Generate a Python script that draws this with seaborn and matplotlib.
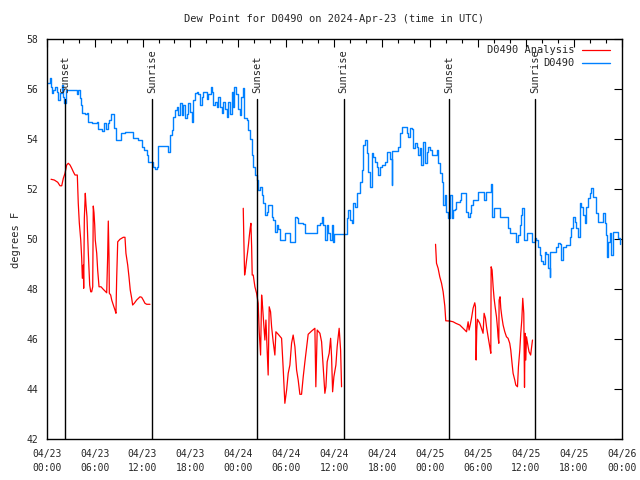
import numpy as np
import pandas as pd
import seaborn as sns
import matplotlib.pyplot as plt
import matplotlib.dates as mdates
from matplotlib.lines import Line2D

# hours since 2024-04-23 00:00 UTC
obs_hours = [0.08, 0.41, 0.54, 0.63, 0.83, 1.04, 1.25, 1.45, 1.66, 1.88, 2.08, 2.20, 2.38, 2.70, 3.54,
             3.75, 3.95, 4.17, 4.29, 4.46, 4.79, 5.00, 5.21, 5.63, 6.26, 6.46, 6.88, 7.21, 7.42, 7.63,
             7.80, 8.05, 8.34, 8.46, 8.64, 8.96, 9.30, 9.80, 10.55, 10.84, 11.46, 11.89, 12.18, 12.52,
             12.72, 13.14, 13.34, 13.55, 13.77, 13.97, 14.59, 15.14, 15.22, 15.43, 15.64, 15.85, 16.06,
             16.27, 16.47, 16.68, 16.90, 17.10, 17.31, 17.52, 17.72, 17.93, 18.15, 18.35, 18.56, 18.77,
             18.97, 19.19, 19.40, 19.60, 19.81, 20.03, 20.23, 20.53, 20.65, 20.85, 21.06, 21.28, 21.48,
             21.69, 21.90, 22.10, 22.32, 22.53, 22.73, 22.94, 23.15, 23.35, 23.48, 23.69, 23.94, 24.19,
             24.38, 24.53, 24.69, 25.03, 25.23, 25.44, 25.66, 25.86, 26.07, 26.28, 26.48, 26.70, 26.91,
             27.11, 27.32, 27.53, 27.74, 28.16, 28.36, 28.57, 28.79, 28.99, 29.20, 29.61, 29.82, 30.24,
             30.45, 30.86, 31.08, 31.29, 31.49, 32.12, 32.33, 33.58, 33.79, 34.21, 34.42, 34.62, 34.83,
             35.04, 35.24, 35.46, 35.67, 35.87, 35.96, 37.34, 37.55, 37.75, 37.96, 38.17, 38.37, 38.59,
             38.80, 39.00, 39.21, 39.42, 39.63, 39.84, 40.05, 40.25, 40.46, 40.68, 40.88, 41.09, 41.30,
             41.50, 41.72, 41.93, 42.13, 42.34, 42.55, 42.75, 42.97, 43.18, 43.22, 43.80, 44.00, 44.22,
             44.43, 44.84, 45.06, 45.26, 45.47, 45.68, 45.88, 46.10, 46.31, 46.51, 46.72, 46.93, 47.13,
             47.35, 47.56, 47.76, 47.97, 48.19, 48.60, 48.81, 49.01, 49.22, 49.44, 49.64, 49.85, 50.06,
             50.26, 50.48, 50.69, 50.89, 51.10, 51.31, 51.72, 51.93, 52.34, 52.56, 52.76, 52.97, 53.19,
             53.39, 53.82, 54.02, 54.64, 54.73, 54.98, 55.57, 55.69, 55.82, 55.98, 56.48, 56.82, 57.57,
             57.77, 57.98, 58.61, 58.82, 59.02, 59.24, 59.45, 59.57, 59.74, 60.15, 60.70, 60.83, 61.16,
             61.33, 61.53, 61.74, 61.95, 62.15, 62.36, 62.58, 62.78, 62.99, 63.08, 63.62, 63.83, 64.03,
             64.24, 64.45, 64.66, 65.08, 65.49, 65.71, 65.91, 66.12, 66.33, 66.53, 66.75, 66.96, 67.16,
             67.37, 67.58, 67.79, 68.00, 68.21, 68.41, 68.62, 68.83, 69.04, 69.46, 69.66, 69.87, 70.08,
             70.16, 70.28, 70.49, 70.70, 70.91, 71.33, 71.54, 71.75]
obs_vals = [56.24, 56.44, 56.1, 55.84, 55.97, 56.1, 55.9, 55.57, 55.84, 56.17, 55.7, 55.44, 55.97, 55.97, 55.97,
            55.8, 55.97, 55.64, 55.37, 55.04, 55.0, 55.04, 54.7, 54.66, 54.7, 54.4, 54.34, 54.64, 54.4, 54.64,
            54.77, 55.0, 55.0, 54.44, 53.97, 53.97, 54.24, 54.3, 54.28, 54.04, 53.97, 53.7, 53.57, 53.37,
            53.1, 53.1, 52.9, 52.8, 52.9, 53.73, 53.73, 53.68, 53.5, 54.17, 54.37, 54.9, 55.17,
            55.3, 54.97, 55.44, 54.97, 55.37, 54.84, 55.0, 55.44, 55.1, 54.7, 55.57, 55.87, 55.9,
            55.8, 55.37, 55.7, 55.9, 55.9, 55.6, 55.8, 56.1, 55.9, 55.37, 55.5, 55.3, 55.7,
            55.3, 55.04, 55.5, 55.2, 54.9, 55.5, 55.0, 55.9, 55.3, 56.1, 55.8, 55.2, 54.97,
            55.7, 56.04, 54.84, 54.77, 54.37, 54.0, 53.37, 52.9, 52.57, 52.37, 51.97, 52.1, 51.77,
            51.44, 50.97, 51.1, 51.37, 50.9, 50.77, 50.3, 50.57, 50.4, 49.97, 49.97, 50.24, 50.24,
            49.9, 49.9, 50.9, 50.84, 50.64, 50.6, 50.24, 50.24, 50.57, 50.64, 50.9, 50.57, 49.97,
            50.57, 50.24, 49.97, 50.57, 49.9, 50.2, 50.2, 50.84, 51.17, 50.77, 50.64, 51.44, 51.3,
            51.84, 51.84, 52.3, 52.77, 53.77, 53.97, 53.44, 52.7, 52.1, 53.44, 53.3, 53.1, 52.9,
            52.57, 52.9, 52.97, 52.97, 53.1, 53.5, 53.5, 53.2, 52.17, 53.53, 53.53, 53.7, 54.24,
            54.5, 54.5, 54.24, 54.1, 54.44, 54.4, 53.64, 53.84, 53.7, 53.37, 53.64, 52.97, 53.9,
            53.04, 53.5, 53.7, 53.57, 53.37, 53.37, 53.57, 53.04, 52.64, 52.3, 51.37, 51.77, 51.1,
            50.84, 51.77, 50.84, 51.17, 51.2, 51.5, 51.57, 51.84, 51.84, 51.1, 50.9, 51.04, 51.37,
            51.57, 51.57, 51.9, 51.9, 51.57, 51.9, 51.9, 52.2, 50.9, 51.24, 51.24, 50.9, 50.9,
            50.44, 50.24, 50.24, 49.9, 50.17, 50.57, 50.97, 51.24, 49.97, 50.24, 50.24, 49.9, 50.04,
            49.97, 49.7, 49.37, 49.13, 49.0, 49.5, 49.4, 48.84, 48.5, 49.5, 49.5, 49.7, 49.84,
            49.8, 49.17, 49.7, 49.77, 50.1, 50.44, 50.9, 50.7, 50.44, 50.1, 51.44, 51.3, 50.97,
            50.64, 51.3, 51.64, 51.84, 52.04, 51.7, 51.7, 51.04, 50.7, 50.7, 51.04, 50.64, 50.17,
            49.3, 49.9, 50.24, 49.37, 50.3, 50.3, 50.04, 49.8]

ana_hours_1 = [0.54, 0.95, 1.38, 1.66, 1.88, 2.08, 2.29, 2.50, 2.70, 2.92, 3.13, 3.33, 3.54, 3.83, 3.95,
               4.08, 4.26, 4.38, 4.46, 4.58, 4.63, 4.71, 4.83, 4.92, 5.04, 5.13, 5.21, 5.29, 5.38, 5.51,
               5.63, 5.76, 5.83, 5.92, 6.01, 6.08, 6.26, 6.38, 6.55, 6.80, 7.08, 7.30, 7.51, 7.63, 7.71,
               7.80, 7.84, 8.01, 8.14, 8.34, 8.55, 8.67, 8.76, 8.89, 9.17, 9.59, 9.80, 9.92, 10.14, 10.30,
               10.46, 10.64, 10.76, 10.96, 11.26, 11.68, 11.89, 12.09, 12.30, 12.52, 12.93]
ana_vals_1 = [52.4, 52.37, 52.28, 52.14, 52.14, 52.44, 52.64, 52.97, 53.04, 52.97, 52.84, 52.7, 52.57, 52.57, 51.44,
              50.66, 49.97, 49.24, 48.44, 48.97, 48.04, 50.84, 51.84, 51.37, 50.9, 50.1, 49.44, 48.84, 48.17, 47.9,
              47.9, 48.1, 51.33, 51.06, 50.57, 49.97, 49.44, 48.77, 48.1, 48.1, 48.0, 47.93, 47.86, 49.3, 50.73,
              49.3, 47.84, 47.77, 47.57, 47.37, 47.17, 47.04, 48.44, 49.9, 50.0, 50.08, 50.08, 49.44, 48.97, 48.5,
              47.97, 47.64, 47.37, 47.44, 47.57, 47.7, 47.68, 47.57, 47.44, 47.4, 47.4]

ana_hours_2 = [24.61, 24.69, 24.78, 24.91, 25.03, 25.16, 25.28, 25.36, 25.48, 25.57, 25.66, 25.73, 25.86, 26.07,
               26.28, 26.48, 26.61, 26.78, 26.91, 27.03, 27.20, 27.32, 27.45, 27.73, 27.86, 28.03, 28.16, 28.36,
               28.57, 28.70, 28.99, 29.41, 29.61, 29.82, 30.04, 30.24, 30.45, 30.66, 30.86, 31.08, 31.29, 31.49,
               31.70, 31.91, 32.12, 32.33, 32.74, 33.17, 33.58, 33.70, 33.87, 34.21, 34.42, 34.62, 34.83, 34.96,
               35.12, 35.37, 35.55, 35.67, 35.80, 35.96, 36.21, 36.37, 36.50, 36.62, 36.80, 36.92]
ana_vals_2 = [51.24, 49.9, 48.57, 48.84, 49.17, 49.5, 49.84, 50.1, 50.44, 50.64, 49.7, 48.57, 48.57, 48.1,
              47.84, 47.44, 46.3, 45.37, 47.77, 47.3, 46.5, 45.97, 46.77, 44.57, 47.3, 47.1, 46.5, 45.9,
              45.37, 46.3, 46.2, 46.04, 44.84, 43.44, 43.97, 44.64, 44.97, 45.84, 46.17, 45.7, 44.77, 44.37,
              43.8, 43.8, 44.5, 45.1, 46.2, 46.33, 46.44, 44.1, 46.37, 46.24, 45.9, 44.9, 43.84, 44.1,
              45.1, 45.44, 46.04, 45.3, 43.9, 44.5, 44.97, 45.7, 46.1, 46.44, 45.57, 44.1]

ana_hours_3 = [48.69, 48.81, 49.01, 49.22, 49.44, 49.64, 49.85, 49.97, 50.48, 50.89, 51.23, 51.73, 52.14, 52.36,
               52.57, 52.77, 52.89, 53.07, 53.19, 53.39, 53.60, 53.69, 53.77, 53.85, 53.94, 54.23, 54.44, 54.64,
               54.77, 54.94, 55.07, 55.27, 55.48, 55.61, 55.65, 55.77, 55.90, 56.02, 56.15, 56.32, 56.45, 56.52,
               56.61, 56.65, 56.77, 56.86, 56.99, 57.15, 57.36, 57.57, 57.77, 57.98, 58.11, 58.27, 58.40, 58.61,
               58.74, 58.95, 59.07, 59.24, 59.36, 59.49, 59.61, 59.74, 59.83, 59.90, 59.99, 60.08, 60.28, 60.40,
               60.60, 60.70, 60.83]
ana_vals_3 = [49.8, 49.04, 48.84, 48.5, 48.24, 47.9, 47.33, 46.74, 46.73, 46.7, 46.64, 46.57, 46.44, 46.37,
              46.3, 46.7, 46.37, 46.64, 46.84, 47.24, 47.46, 47.3, 45.17, 46.37, 46.8, 46.64, 46.44, 46.24,
              47.04, 46.84, 46.5, 46.1, 45.7, 45.44, 48.9, 48.77, 48.1, 47.64, 47.3, 46.9, 46.44, 46.1,
              45.84, 47.57, 47.7, 47.24, 46.9, 46.57, 46.3, 46.1, 46.04, 45.84, 45.57, 45.04, 44.64, 44.37,
              44.17, 44.1, 44.9, 45.57, 46.24, 46.77, 47.64, 47.04, 44.08, 46.24, 45.17, 46.1, 45.7, 45.5,
              45.37, 45.64, 45.97]

sun_hours = [2.33, 13.22, 26.36, 37.17, 50.39, 61.2]
sun_labels = ["Sunset", "Sunrise", "Sunset", "Sunrise", "Sunset", "Sunrise"]

ana_color = "#ff0000"
obs_color = "#0080ff"

base = pd.Timestamp("2024-04-23 00:00")

def to_time(hours):
    return base + pd.to_timedelta(np.array(hours), unit="h")

ana_df = pd.concat([
    pd.DataFrame({"time": to_time(h), "value": v, "segment": i})
    for i, (h, v) in enumerate([(ana_hours_1, ana_vals_1), (ana_hours_2, ana_vals_2), (ana_hours_3, ana_vals_3)])
])
obs_df = pd.DataFrame({"time": to_time(obs_hours), "value": obs_vals, "segment": 0})

sns.set_style("white")
plt.rcParams["font.family"] = ["DejaVu Sans Mono"]
plt.rcParams["font.size"] = 7

fig = plt.figure(figsize=(6.4, 4.8), dpi=100)
ax = fig.add_axes([0.073, 0.0848, 0.8984, 0.8334])

sns.lineplot(data=ana_df, x="time", y="value", units="segment", estimator=None,
             color=ana_color, lw=0.9, ax=ax, legend=False)
sns.lineplot(data=obs_df, x="time", y="value", units="segment", estimator=None,
             color=obs_color, lw=1.0, drawstyle="steps-post", ax=ax, legend=False)

for h, lab in zip(sun_hours, sun_labels):
    t = to_time([h])[0]
    ax.plot([t, t], [42, 55.62], color="black", lw=1.0)
    ax.text(t, 55.85, lab, rotation=90, ha="center", va="bottom", fontsize=7.5)

ax.set_xlim(base, base + pd.Timedelta(hours=72))
ax.set_ylim(42, 58)
ax.set_yticks(np.arange(42, 59, 2))
ax.xaxis.set_major_locator(mdates.HourLocator(byhour=[0, 6, 12, 18]))
ax.xaxis.set_minor_locator(mdates.HourLocator(byhour=range(0, 24, 2)))
ax.xaxis.set_major_formatter(mdates.DateFormatter("%m/%d\n%H:%M"))
ax.tick_params(axis="both", which="both", direction="in", top=True, right=True, color="black")
ax.tick_params(axis="both", which="major", length=6, width=0.8, labelsize=7)
ax.tick_params(axis="x", which="minor", length=3, width=0.8)
ax.tick_params(axis="x", which="major", pad=7)
ax.tick_params(axis="y", which="major", pad=6)
for lab in ax.get_xticklabels():
    lab.set_linespacing(1.5)
for s in ax.spines.values():
    s.set_color("black")
    s.set_linewidth(1.0)
ax.set_xlabel("")
ax.set_ylabel("")

fig.text(0.5218, 1 - 19 / 480, "Dew Point for D0490 on 2024-Apr-23 (time in UTC)",
         ha="center", va="center", fontsize=7.5)
fig.text(16 / 640, 0.5, "degrees F", rotation=90, ha="center", va="center", fontsize=7.5)

handles = [Line2D([], [], color=ana_color, lw=0.9), Line2D([], [], color=obs_color, lw=1.0)]
ax.legend(handles, ["D0490 Analysis", "D0490"], loc="upper right",
          bbox_to_anchor=(1 - 12 / 575, 1 - 6 / 400), frameon=False,
          markerfirst=False, fontsize=7.5, handlelength=2.7, handletextpad=0.7,
          labelspacing=0.3, borderpad=0, borderaxespad=0)

fig.savefig("out.png", dpi=100)
